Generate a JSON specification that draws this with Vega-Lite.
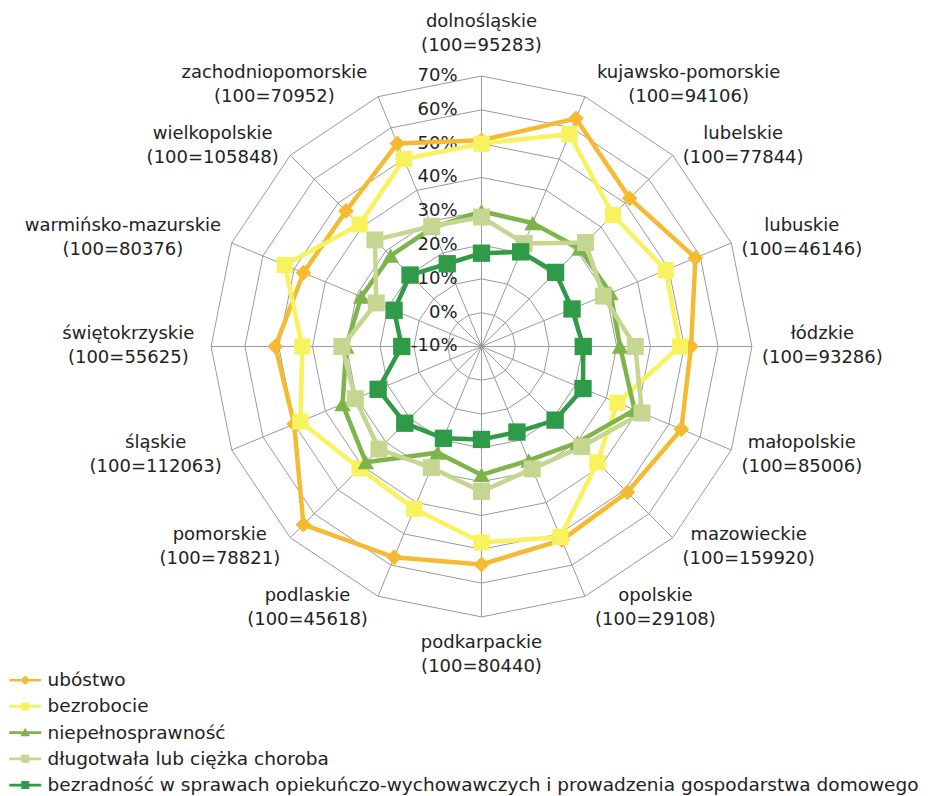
{
  "$schema": "https://vega.github.io/schema/vega-lite/v6.json",
  "width": 951,
  "height": 796,
  "autosize": "none",
  "padding": 0,
  "background": "white",
  "config": {"view": {"stroke": null}, "font": "DejaVu Sans"},
  "resolve": {"scale": {"color": "independent", "shape": "independent", "size": "independent"}},
  "datasets": {
    "woj": [
      {"w": "dolnośląskie", "n": 95283, "k": 0},
      {"w": "kujawsko-pomorskie", "n": 94106, "k": 1},
      {"w": "lubelskie", "n": 77844, "k": 2},
      {"w": "lubuskie", "n": 46146, "k": 3},
      {"w": "łódzkie", "n": 93286, "k": 4},
      {"w": "małopolskie", "n": 85006, "k": 5},
      {"w": "mazowieckie", "n": 159920, "k": 6},
      {"w": "opolskie", "n": 29108, "k": 7},
      {"w": "podkarpackie", "n": 80440, "k": 8},
      {"w": "podlaskie", "n": 45618, "k": 9},
      {"w": "pomorskie", "n": 78821, "k": 10},
      {"w": "śląskie", "n": 112063, "k": 11},
      {"w": "świętokrzyskie", "n": 55625, "k": 12},
      {"w": "warmińsko-mazurskie", "n": 80376, "k": 13},
      {"w": "wielkopolskie", "n": 105848, "k": 14},
      {"w": "zachodniopomorskie", "n": 70952, "k": 15}
    ],
    "vals": [
      {"s": "ubóstwo", "w": "dolnośląskie", "v": 51},
      {"s": "ubóstwo", "w": "kujawsko-pomorskie", "v": 63},
      {"s": "ubóstwo", "w": "lubelskie", "v": 52},
      {"s": "ubóstwo", "w": "lubuskie", "v": 58.5},
      {"s": "ubóstwo", "w": "łódzkie", "v": 52},
      {"s": "ubóstwo", "w": "małopolskie", "v": 54},
      {"s": "ubóstwo", "w": "mazowieckie", "v": 51},
      {"s": "ubóstwo", "w": "opolskie", "v": 52},
      {"s": "ubóstwo", "w": "podkarpackie", "v": 54.5},
      {"s": "ubóstwo", "w": "podlaskie", "v": 57.5},
      {"s": "ubóstwo", "w": "pomorskie", "v": 64.5},
      {"s": "ubóstwo", "w": "śląskie", "v": 50},
      {"s": "ubóstwo", "w": "świętokrzyskie", "v": 51},
      {"s": "ubóstwo", "w": "warmińsko-mazurskie", "v": 47},
      {"s": "ubóstwo", "w": "wielkopolskie", "v": 46.7},
      {"s": "ubóstwo", "w": "zachodniopomorskie", "v": 55},
      {"s": "bezrobocie", "w": "dolnośląskie", "v": 50},
      {"s": "bezrobocie", "w": "kujawsko-pomorskie", "v": 58},
      {"s": "bezrobocie", "w": "lubelskie", "v": 45},
      {"s": "bezrobocie", "w": "lubuskie", "v": 49},
      {"s": "bezrobocie", "w": "łódzkie", "v": 48.7},
      {"s": "bezrobocie", "w": "małopolskie", "v": 33.5},
      {"s": "bezrobocie", "w": "mazowieckie", "v": 38.5},
      {"s": "bezrobocie", "w": "opolskie", "v": 51},
      {"s": "bezrobocie", "w": "podkarpackie", "v": 48},
      {"s": "bezrobocie", "w": "podlaskie", "v": 42},
      {"s": "bezrobocie", "w": "pomorskie", "v": 41},
      {"s": "bezrobocie", "w": "śląskie", "v": 48},
      {"s": "bezrobocie", "w": "świętokrzyskie", "v": 43},
      {"s": "bezrobocie", "w": "warmińsko-mazurskie", "v": 53},
      {"s": "bezrobocie", "w": "wielkopolskie", "v": 41},
      {"s": "bezrobocie", "w": "zachodniopomorskie", "v": 50},
      {"s": "niepełnosprawność", "w": "dolnośląskie", "v": 30},
      {"s": "niepełnosprawność", "w": "kujawsko-pomorskie", "v": 29.5},
      {"s": "niepełnosprawność", "w": "lubelskie", "v": 31},
      {"s": "niepełnosprawność", "w": "lubuskie", "v": 31.3},
      {"s": "niepełnosprawność", "w": "łódzkie", "v": 31},
      {"s": "niepełnosprawność", "w": "małopolskie", "v": 39},
      {"s": "niepełnosprawność", "w": "mazowieckie", "v": 30.2},
      {"s": "niepełnosprawność", "w": "opolskie", "v": 26.5},
      {"s": "niepełnosprawność", "w": "podkarpackie", "v": 28},
      {"s": "niepełnosprawność", "w": "podlaskie", "v": 24},
      {"s": "niepełnosprawność", "w": "pomorskie", "v": 38.4},
      {"s": "niepełnosprawność", "w": "śląskie", "v": 34.5},
      {"s": "niepełnosprawność", "w": "świętokrzyskie", "v": 30},
      {"s": "niepełnosprawność", "w": "warmińsko-mazurskie", "v": 28.5},
      {"s": "niepełnosprawność", "w": "wielkopolskie", "v": 28},
      {"s": "niepełnosprawność", "w": "zachodniopomorskie", "v": 28},
      {"s": "długotwała lub ciężka choroba", "w": "dolnośląskie", "v": 28.3},
      {"s": "długotwała lub ciężka choroba", "w": "kujawsko-pomorskie", "v": 23},
      {"s": "długotwała lub ciężka choroba", "w": "lubelskie", "v": 33.5},
      {"s": "długotwała lub ciężka choroba", "w": "lubuskie", "v": 29},
      {"s": "długotwała lub ciężka choroba", "w": "łódzkie", "v": 35.5},
      {"s": "długotwała lub ciężka choroba", "w": "małopolskie", "v": 41.4},
      {"s": "długotwała lub ciężka choroba", "w": "mazowieckie", "v": 31.9},
      {"s": "długotwała lub ciężka choroba", "w": "opolskie", "v": 29.2},
      {"s": "długotwała lub ciężka choroba", "w": "podkarpackie", "v": 32.9},
      {"s": "długotwała lub ciężka choroba", "w": "podlaskie", "v": 28.8},
      {"s": "długotwała lub ciężka choroba", "w": "pomorskie", "v": 32.9},
      {"s": "długotwała lub ciężka choroba", "w": "śląskie", "v": 30.4},
      {"s": "długotwała lub ciężka choroba", "w": "świętokrzyskie", "v": 31.3},
      {"s": "długotwała lub ciężka choroba", "w": "warmińsko-mazurskie", "v": 23.7},
      {"s": "długotwała lub ciężka choroba", "w": "wielkopolskie", "v": 34.6},
      {"s": "długotwała lub ciężka choroba", "w": "zachodniopomorskie", "v": 28.5},
      {"s": "bezradność w sprawach opiekuńczo-wychowawczych i prowadzenia  gospodarstwa domowego", "w": "dolnośląskie", "v": 17.6},
      {"s": "bezradność w sprawach opiekuńczo-wychowawczych i prowadzenia  gospodarstwa domowego", "w": "kujawsko-pomorskie", "v": 20.3},
      {"s": "bezradność w sprawach opiekuńczo-wychowawczych i prowadzenia  gospodarstwa domowego", "w": "lubelskie", "v": 21},
      {"s": "bezradność w sprawach opiekuńczo-wychowawczych i prowadzenia  gospodarstwa domowego", "w": "lubuskie", "v": 19},
      {"s": "bezradność w sprawach opiekuńczo-wychowawczych i prowadzenia  gospodarstwa domowego", "w": "łódzkie", "v": 20.1},
      {"s": "bezradność w sprawach opiekuńczo-wychowawczych i prowadzenia  gospodarstwa domowego", "w": "małopolskie", "v": 22.5},
      {"s": "bezradność w sprawach opiekuńczo-wychowawczych i prowadzenia  gospodarstwa domowego", "w": "mazowieckie", "v": 20.8},
      {"s": "bezradność w sprawach opiekuńczo-wychowawczych i prowadzenia  gospodarstwa domowego", "w": "opolskie", "v": 17.4},
      {"s": "bezradność w sprawach opiekuńczo-wychowawczych i prowadzenia  gospodarstwa domowego", "w": "podkarpackie", "v": 17.5},
      {"s": "bezradność w sprawach opiekuńczo-wychowawczych i prowadzenia  gospodarstwa domowego", "w": "podlaskie", "v": 19.4},
      {"s": "bezradność w sprawach opiekuńczo-wychowawczych i prowadzenia  gospodarstwa domowego", "w": "pomorskie", "v": 22.1},
      {"s": "bezradność w sprawach opiekuńczo-wychowawczych i prowadzenia  gospodarstwa domowego", "w": "śląskie", "v": 23.1},
      {"s": "bezradność w sprawach opiekuńczo-wychowawczych i prowadzenia  gospodarstwa domowego", "w": "świętokrzyskie", "v": 13.6},
      {"s": "bezradność w sprawach opiekuńczo-wychowawczych i prowadzenia  gospodarstwa domowego", "w": "warmińsko-mazurskie", "v": 18},
      {"s": "bezradność w sprawach opiekuńczo-wychowawczych i prowadzenia  gospodarstwa domowego", "w": "wielkopolskie", "v": 19.9},
      {"s": "bezradność w sprawach opiekuńczo-wychowawczych i prowadzenia  gospodarstwa domowego", "w": "zachodniopomorskie", "v": 16.5}
    ]
  },
  "layer": [
    {
      "data": {"name": "woj"},
      "transform": [
        {"calculate": "[0,10,20,30,40,50,60,70]", "as": "lev"},
        {"flatten": ["lev"]},
        {"calculate": "(datum.lev + 10) * sin(datum.k * PI / 8)", "as": "x"},
        {"calculate": "(datum.lev + 10) * cos(datum.k * PI / 8)", "as": "y"}
      ],
      "mark": {"type": "line", "interpolate": "linear-closed", "color": "#9a9a9a", "strokeWidth": 1},
      "encoding": {
        "x": {"field": "x", "type": "quantitative", "scale": {"domain": [-142.46, 138.91], "nice": false, "zero": false}, "axis": null},
        "y": {"field": "y", "type": "quantitative", "scale": {"domain": [-132.99, 102.51], "nice": false, "zero": false}, "axis": null},
        "detail": {"field": "lev", "type": "nominal"},
        "order": {"field": "k", "type": "quantitative"}
      }
    },
    {
      "data": {"name": "woj"},
      "transform": [
        {"calculate": "0", "as": "x"},
        {"calculate": "0", "as": "y"},
        {"calculate": "80 * sin(datum.k * PI / 8)", "as": "ex"},
        {"calculate": "80 * cos(datum.k * PI / 8)", "as": "ey"}
      ],
      "mark": {"type": "rule", "color": "#9a9a9a", "strokeWidth": 1},
      "encoding": {
        "x": {"field": "x", "type": "quantitative", "scale": {"domain": [-142.46, 138.91], "nice": false, "zero": false}, "axis": null},
        "y": {"field": "y", "type": "quantitative", "scale": {"domain": [-132.99, 102.51], "nice": false, "zero": false}, "axis": null},
        "x2": {"field": "ex"},
        "y2": {"field": "ey"}
      }
    },
    {
      "data": {"name": "woj"},
      "transform": [
        {"filter": "datum.k === 0"},
        {"calculate": "[-10,0,10,20,30,40,50,60,70]", "as": "lev"},
        {"flatten": ["lev"]},
        {"calculate": "0", "as": "x"},
        {"calculate": "datum.lev + 10", "as": "y"},
        {"calculate": "datum.lev + '%'", "as": "tl"}
      ],
      "mark": {"type": "text", "align": "right", "baseline": "middle", "dx": -24, "fontSize": 18, "color": "#222"},
      "encoding": {
        "x": {"field": "x", "type": "quantitative", "scale": {"domain": [-142.46, 138.91], "nice": false, "zero": false}, "axis": null},
        "y": {"field": "y", "type": "quantitative", "scale": {"domain": [-132.99, 102.51], "nice": false, "zero": false}, "axis": null},
        "text": {"field": "tl"}
      }
    },
    {
      "data": {"name": "vals"},
      "transform": [
        {"lookup": "w", "from": {"data": {"name": "woj"}, "key": "w", "fields": ["k"]}},
        {"calculate": "(datum.v + 10) * sin(datum.k * PI / 8)", "as": "x"},
        {"calculate": "(datum.v + 10) * cos(datum.k * PI / 8)", "as": "y"}
      ],
      "mark": {"type": "line", "interpolate": "linear-closed", "strokeWidth": 4.5},
      "encoding": {
        "x": {"field": "x", "type": "quantitative", "scale": {"domain": [-142.46, 138.91], "nice": false, "zero": false}, "axis": null},
        "y": {"field": "y", "type": "quantitative", "scale": {"domain": [-132.99, 102.51], "nice": false, "zero": false}, "axis": null},
        "color": {
          "field": "s", "type": "nominal",
          "scale": {
            "domain": ["ubóstwo", "bezrobocie", "niepełnosprawność", "długotwała lub ciężka choroba", "bezradność w sprawach opiekuńczo-wychowawczych i prowadzenia  gospodarstwa domowego"],
            "range": ["#F5BA32", "#F7F25E", "#7DB54A", "#C4D690", "#2F9A48"]
          },
          "legend": null
        },
        "order": {"field": "k", "type": "quantitative"}
      }
    },
    {
      "data": {"name": "vals"},
      "transform": [
        {"lookup": "w", "from": {"data": {"name": "woj"}, "key": "w", "fields": ["k"]}},
        {"calculate": "(datum.v + 10) * sin(datum.k * PI / 8)", "as": "x"},
        {"calculate": "(datum.v + 10) * cos(datum.k * PI / 8)", "as": "y"}
      ],
      "mark": {"type": "point", "filled": true, "opacity": 1, "strokeWidth": 0},
      "encoding": {
        "x": {"field": "x", "type": "quantitative", "scale": {"domain": [-142.46, 138.91], "nice": false, "zero": false}, "axis": null},
        "y": {"field": "y", "type": "quantitative", "scale": {"domain": [-132.99, 102.51], "nice": false, "zero": false}, "axis": null},
        "color": {
          "field": "s", "type": "nominal",
          "scale": {
            "domain": ["ubóstwo", "bezrobocie", "niepełnosprawność", "długotwała lub ciężka choroba", "bezradność w sprawach opiekuńczo-wychowawczych i prowadzenia  gospodarstwa domowego"],
            "range": ["#F5BA32", "#F7F25E", "#7DB54A", "#C4D690", "#2F9A48"]
          },
          "legend": null
        },
        "shape": {
          "field": "s", "type": "nominal",
          "scale": {
            "domain": ["ubóstwo", "bezrobocie", "niepełnosprawność", "długotwała lub ciężka choroba", "bezradność w sprawach opiekuńczo-wychowawczych i prowadzenia  gospodarstwa domowego"],
            "range": ["diamond", "square", "triangle-up", "square", "square"]
          },
          "legend": null
        },
        "size": {
          "field": "s", "type": "nominal",
          "scale": {
            "domain": ["ubóstwo", "bezrobocie", "niepełnosprawność", "długotwała lub ciężka choroba", "bezradność w sprawach opiekuńczo-wychowawczych i prowadzenia  gospodarstwa domowego"],
            "range": [250, 300, 240, 300, 300]
          },
          "legend": null
        }
      }
    },
    {
      "data": {"name": "vals"},
      "transform": [{"filter": "false"}],
      "mark": {"type": "point", "filled": true, "opacity": 1, "strokeWidth": 0},
      "encoding": {
        "color": {
          "field": "s", "type": "nominal",
          "scale": {
            "domain": ["ubóstwo", "bezrobocie", "niepełnosprawność", "długotwała lub ciężka choroba", "bezradność w sprawach opiekuńczo-wychowawczych i prowadzenia  gospodarstwa domowego"],
            "range": ["#F5BA32", "#F7F25E", "#7DB54A", "#C4D690", "#2F9A48"]
          },
          "legend": {
            "title": null, "orient": "none", "legendX": 16, "legendY": 671, "direction": "vertical", "padding": 0,
            "labelFont": "DejaVu Sans", "labelFontSize": 18.5, "labelColor": "#222", "labelLimit": 1000, "labelOffset": 13,
            "rowPadding": 7.2, "symbolSize": 256, "symbolStrokeWidth": 0, "symbolOpacity": 1
          }
        },
        "shape": {
          "field": "s", "type": "nominal",
          "scale": {
            "domain": ["ubóstwo", "bezrobocie", "niepełnosprawność", "długotwała lub ciężka choroba", "bezradność w sprawach opiekuńczo-wychowawczych i prowadzenia  gospodarstwa domowego"],
            "range": [
              "M-2,-0.17H2V0.17H-2ZM0,-0.6L0.6,0L0,0.6L-0.6,0Z",
              "M-2,-0.17H2V0.17H-2ZM-0.5,-0.5H0.5V0.5H-0.5Z",
              "M-2,-0.17H2V0.17H-2ZM0,-0.6L0.6,0.45L-0.6,0.45Z",
              "M-2,-0.17H2V0.17H-2ZM-0.5,-0.5H0.5V0.5H-0.5Z",
              "M-2,-0.17H2V0.17H-2ZM-0.5,-0.5H0.5V0.5H-0.5Z"
            ]
          },
          "legend": {
            "title": null, "orient": "none", "legendX": 16, "legendY": 671, "direction": "vertical", "padding": 0,
            "labelFont": "DejaVu Sans", "labelFontSize": 18.5, "labelColor": "#222", "labelLimit": 1000, "labelOffset": 13,
            "rowPadding": 7.2, "symbolSize": 256, "symbolStrokeWidth": 0, "symbolOpacity": 1
          }
        }
      }
    },
    {
      "data": {"name": "woj"},
      "transform": [
        {"calculate": "sin(datum.k * PI / 8)", "as": "sn"},
        {"calculate": "cos(datum.k * PI / 8)", "as": "cs"},
        {"calculate": "'(100=' + datum.n + ')'", "as": "nl"},
        {"calculate": "max(length(datum.w) * 10.4, length(datum.nl) * 11)", "as": "tw"},
        {"calculate": "abs(datum.sn) < 0.01 ? 0 : 80 * datum.sn + (datum.sn > 0 ? 1 : -1) * (datum.tw / 2 + 10) / 3.38", "as": "x"},
        {"calculate": "(abs(datum.sn) < 0.01 ? (datum.cs > 0 ? 80 + 42 / 3.38 : -80 - 38 / 3.38) : 80 * datum.cs + datum.cs * 12.5 / 3.38) + 12 / 3.38", "as": "y"},
        {"calculate": "datum.w + '\\n' + datum.nl", "as": "lab"}
      ],
      "mark": {"type": "text", "align": "center", "baseline": "middle", "lineBreak": "\n", "lineHeight": 24, "fontSize": 18, "color": "#222"},
      "encoding": {
        "x": {"field": "x", "type": "quantitative", "scale": {"domain": [-142.46, 138.91], "nice": false, "zero": false}, "axis": null},
        "y": {"field": "y", "type": "quantitative", "scale": {"domain": [-132.99, 102.51], "nice": false, "zero": false}, "axis": null},
        "text": {"field": "lab"}
      }
    }
  ]
}
